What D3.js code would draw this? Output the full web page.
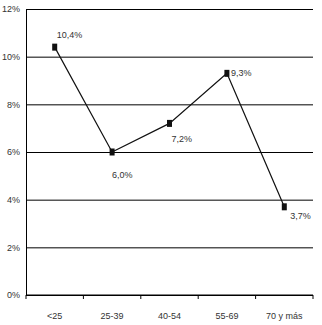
<!DOCTYPE html>
<html>
<head>
<meta charset="utf-8">
<script src="https://cdn.jsdelivr.net/npm/d3@7"></script>
<style>
  body { margin: 0; background: #fff; }
  text { font-family: "Liberation Sans Narrow", "Arial Narrow", "Liberation Sans", Arial, sans-serif; fill: #333; font-size: 9px; }
</style>
</head>
<body>
<div id="chart"></div>
<script>
'use strict'

// Data
const categories = ['<25', '25-39', '40-54', '55-69', '70 y más'];
const values = [10.4, 6.0, 7.2, 9.3, 3.7];
const yTicks = [0, 2, 4, 6, 8, 10, 12];
// label placement relative to the marker: [dx, dy]
const labelOffsets = [[2, -9], [0, 26], [2, 19], [4, 3], [6, 12]];

const margin = {top: 9, right: 9, bottom: 30, left: 26},
    width = 322 - margin.left - margin.right,
    height = 325 - margin.top - margin.bottom;

const svg = d3.select('#chart')
    .append('svg')
    .attr('width', 322)
    .attr('height', 325)
    .append('g')
    .attr('transform', `translate(${margin.left},${margin.top})`);

const x = d3.scaleBand()
    .domain(categories)
    .range([0, width]);

const y = d3.scaleLinear()
    .domain([0, 12])
    .range([height, 0]);

// Gridlines + y labels
const yAxis = d3.axisLeft(y)
    .tickValues(yTicks)
    .tickSize(-width)
    .tickPadding(6)
    .tickFormat(d => d + '%');

svg.append('g')
    .attr('class', 'yAxis')
    .call(yAxis)
    .call(g => g.select('.domain').attr('stroke', '#000'))
    .call(g => g.selectAll('.tick line').attr('stroke', '#000'))
    .call(g => g.selectAll('.tick text').style('font-size', '9px').style('font-family', null));

// x axis with ticks at band boundaries
const xg = svg.append('g')
    .attr('transform', `translate(0,${height})`);

xg.append('line')
    .attr('x1', 0).attr('x2', width)
    .attr('stroke', '#000');

xg.selectAll('line.bound')
    .data(d3.range(categories.length + 1))
    .join('line')
    .attr('class', 'bound')
    .attr('x1', i => i * x.step()).attr('x2', i => i * x.step())
    .attr('y1', 0).attr('y2', 4)
    .attr('stroke', '#000');

xg.selectAll('text')
    .data(categories)
    .join('text')
    .attr('x', d => x(d) + x.bandwidth() / 2)
    .attr('y', 24)
    .attr('text-anchor', 'middle')
    .text(d => d);

// Line
const pts = categories.map((c, i) => ({cat: c, val: values[i], off: labelOffsets[i]}));

svg.append('path')
    .datum(pts)
    .attr('fill', 'none')
    .attr('stroke', '#111')
    .attr('stroke-width', 1.2)
    .attr('d', d3.line()
        .x(d => x(d.cat) + x.bandwidth() / 2)
        .y(d => y(d.val)));

// Markers
svg.selectAll('rect.marker')
    .data(pts)
    .join('rect')
    .attr('class', 'marker')
    .attr('x', d => x(d.cat) + x.bandwidth() / 2 - 2.5)
    .attr('y', d => y(d.val) - 3.5)
    .attr('width', 5)
    .attr('height', 7)
    .attr('fill', '#111');

// Value labels
svg.selectAll('text.valueLabel')
    .data(pts)
    .join('text')
    .attr('class', 'valueLabel')
    .attr('x', d => x(d.cat) + x.bandwidth() / 2 + d.off[0])
    .attr('y', d => y(d.val) + d.off[1])
    .text(d => d3.format('.1f')(d.val).replace('.', ',') + '%');
</script>
</body>
</html>
